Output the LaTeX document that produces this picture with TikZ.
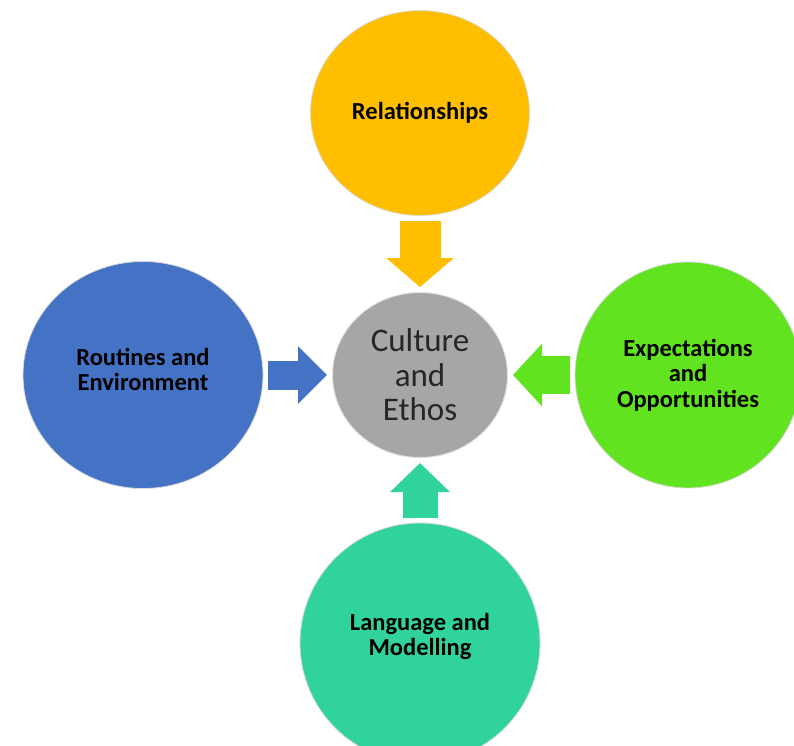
\documentclass[tikz,border=0pt]{standalone}
\usepackage{fontspec}
\setmainfont{Carlito}
\usetikzlibrary{positioning,shapes.geometric,arrows.meta}

\definecolor{relgold}{HTML}{FFBF00}
\definecolor{routblue}{HTML}{4472C4}
\definecolor{expgreen}{HTML}{62E320}
\definecolor{langteal}{HTML}{31D39C}
\definecolor{hubgray}{HTML}{A6A6A6}

% centred lines lifted a little inside a circle
\newcommand{\liftlines}[2]{\raisebox{#1}[\height][\depth]{\begin{tabular}{@{}c@{}}#2\end{tabular}}}

\tikzset{
  petal/.style={ellipse, draw=gray!30, line width=0.8pt, inner sep=0pt,
    align=center, text=black, font=\fontsize{24.5}{25.5}\selectfont\bfseries},
  hub/.style={ellipse, draw=gray!25, line width=1pt, inner sep=0pt, fill=hubgray,
    minimum width=175pt, minimum height=165pt, align=center, text=black!85,
    font=\fontsize{33}{34.5}\selectfont},
  flow/.style n args={3}{draw=#1, line width=#2, -{Triangle[width=#3, length=29pt]},
    shorten >=5pt, shorten <=5pt}
}

\begin{document}
\begin{tikzpicture}[x=1pt,y=-1pt,on grid]
\useasboundingbox (0,0) rectangle (794,745);

\node[hub] (culture) at (420,375) {Culture\\and\\Ethos};
\node[petal, fill=relgold, minimum width=219pt, minimum height=205pt] (relation) [above=262pt of culture] {Relationships};
\node[petal, fill=routblue, minimum width=240pt, minimum height=227pt] (routine) [left=277pt of culture] {\liftlines{2pt}{Routines and\\Environment}};
\node[petal, fill=expgreen, minimum width=226pt, minimum height=226pt] (expect) [right=268pt of culture] {Expectations\\and\\Opportunities};
\node[petal, fill=langteal, minimum width=240pt, minimum height=240pt] (language) [below=268pt of culture] {\liftlines{5pt}{Language and\\Modelling}};

% block arrows into the hub
\draw[flow={relgold}{41pt}{66pt}] (relation) -- (culture);
\draw[flow={routblue}{29pt}{56pt}] (routine) -- (culture);
\draw[flow={expgreen}{38pt}{61pt}] (expect) -- (culture);
\draw[flow={langteal}{35pt}{58pt}] (language) -- (culture);
\end{tikzpicture}
\end{document}
